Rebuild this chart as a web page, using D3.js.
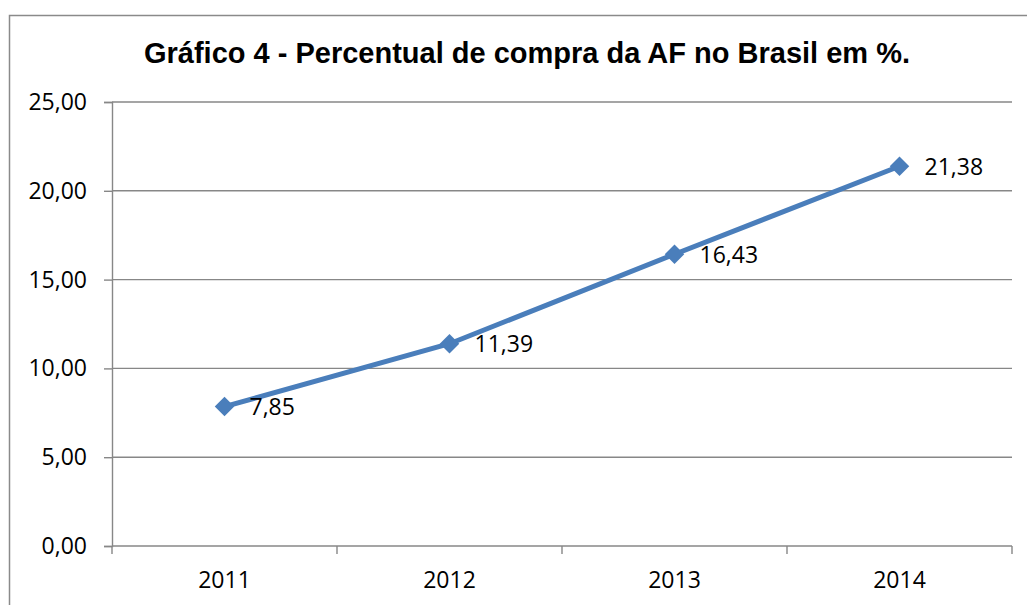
<!DOCTYPE html>
<html>
<head>
<meta charset="utf-8">
<style>
  body { margin: 0; background: #fff; }
  .tick text { font-family: "Open Sans", sans-serif; font-size: 23px; fill: #000; }
  .lbl { font-family: "Open Sans", sans-serif; font-size: 23px; fill: #000; }
  .title { font-family: "Liberation Sans", Arial, sans-serif; font-weight: bold; font-size: 29px; }
</style>
</head>
<body>
<svg width="1027" height="605"></svg>
<script src="https://d3js.org/d3.v7.min.js"></script>
<script>
var years = ["2011", "2012", "2013", "2014"];
var values = [7.85, 11.39, 16.43, 21.38];
var yTicks = [0, 5, 10, 15, 20, 25];
var title = "Gráfico 4 - Percentual de compra da AF no Brasil em %.";

var svg = d3.select("svg"),
    margin = {top: 102, right: 15, bottom: 59, left: 112},
    width = 1027 - margin.left - margin.right,
    height = 605 - margin.top - margin.bottom;

// outer frame
svg.append("rect")
    .attr("x", 9.5).attr("y", 15.5)
    .attr("width", 1040).attr("height", 620)
    .attr("fill", "none").attr("stroke", "#8a8a8a").attr("stroke-width", 1.5);

svg.append("text")
    .attr("class", "title")
    .attr("x", 527).attr("y", 63)
    .attr("text-anchor", "middle")
    .text(title);

var g = svg.append("g").attr("transform", "translate(" + margin.left + "," + margin.top + ")");

var x = d3.scaleBand().domain(years).range([0, width]);
var y = d3.scaleLinear().domain([0, 25]).range([height, 0]);

var fmt = function(d) { return d3.format(".2f")(d).replace(".", ","); };

// gridlines
g.append("g")
  .selectAll("line")
  .data(yTicks.slice(1))
  .enter().append("line")
    .attr("x1", 0).attr("x2", width)
    .attr("y1", function(d) { return y(d); })
    .attr("y2", function(d) { return y(d); })
    .attr("stroke", "#878787").attr("stroke-width", 1.4);

var yAxis = g.append("g")
    .call(d3.axisLeft(y).tickValues(yTicks).tickSize(8).tickPadding(17).tickFormat(fmt));
yAxis.select(".domain").attr("stroke", "#878787").attr("stroke-width", 1.4);
yAxis.selectAll(".tick line").attr("stroke", "#878787").attr("stroke-width", 1.4);
yAxis.selectAll(".tick text").attr("dy", "0.33em");

// x axis with ticks at band edges
var xAxis = g.append("g").attr("transform", "translate(0," + height + ")");
xAxis.append("line")
    .attr("x1", 0).attr("x2", width)
    .attr("stroke", "#878787").attr("stroke-width", 1.4);
xAxis.selectAll(".edge")
  .data(years.concat([null]))
  .enter().append("line")
    .attr("class", "edge")
    .attr("x1", function(d, i) { return i * x.bandwidth(); })
    .attr("x2", function(d, i) { return i * x.bandwidth(); })
    .attr("y1", 0).attr("y2", 8)
    .attr("stroke", "#878787").attr("stroke-width", 1.4);
xAxis.selectAll(".tick")
  .data(years)
  .enter().append("text")
    .attr("class", "lbl")
    .attr("x", function(d) { return x(d) + x.bandwidth() / 2; })
    .attr("y", 42)
    .attr("text-anchor", "middle")
    .text(function(d) { return d; });

var pts = years.map(function(d, i) { return {year: d, value: values[i]}; });

var line = d3.line()
    .x(function(d) { return x(d.year) + x.bandwidth() / 2; })
    .y(function(d) { return y(d.value); });

g.append("path")
    .datum(pts)
    .attr("d", line)
    .attr("fill", "none")
    .attr("stroke", "#4a7ebb")
    .attr("stroke-width", 5);

g.selectAll(".marker")
  .data(pts)
  .enter().append("path")
    .attr("class", "marker")
    .attr("d", d3.symbol().type(d3.symbolSquare).size(190))
    .attr("transform", function(d) {
      return "translate(" + (x(d.year) + x.bandwidth() / 2) + "," + y(d.value) + ") rotate(45)";
    })
    .attr("fill", "#4a7ebb");

g.selectAll(".val")
  .data(pts)
  .enter().append("text")
    .attr("class", "lbl")
    .attr("x", function(d) { return x(d.year) + x.bandwidth() / 2 + 25; })
    .attr("y", function(d) { return y(d.value); })
    .attr("dy", "0.38em")
    .text(function(d) { return fmt(d.value); });
</script>
</body>
</html>
